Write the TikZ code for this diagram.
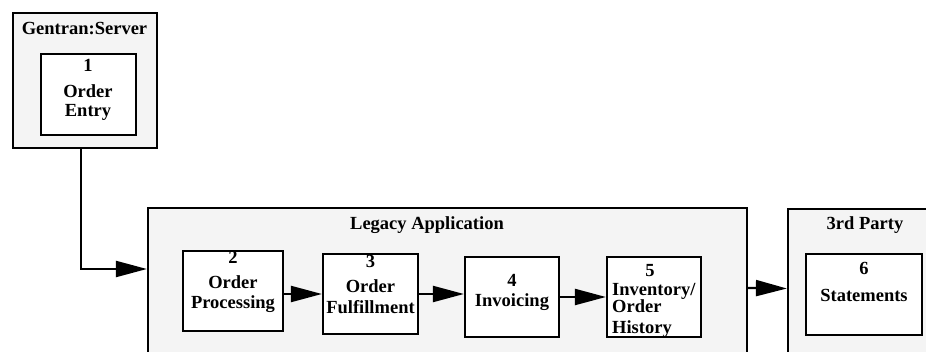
\documentclass[tikz,border=0pt]{standalone}
\usepackage{fontspec}
\setmainfont{Liberation Serif}
\usetikzlibrary{arrows.meta}
\definecolor{panelgray}{HTML}{F4F4F4}
\tikzset{
  panel/.style={draw=black, line width=2.2pt, fill=panelgray, rectangle, inner sep=0pt},
  task/.style={draw=black, line width=2.2pt, fill=white, rectangle, inner sep=0pt},
  label/.style={inner sep=0pt, font=\fontsize{18.5}{20}\selectfont\bfseries},
  flow/.style={line width=2.2pt, -{Triangle[length=31pt,width=16pt]}}
}
\begin{document}
\begin{tikzpicture}[x=1pt, y=-1pt]
  \useasboundingbox (0,0) rectangle (926,352);
  \clip (0,0) rectangle (926,352);

  % system panels
  \node[panel, minimum width=144pt, minimum height=135pt] (gentran) at (85,80.5) {};
  \node[panel, minimum width=599pt, minimum height=152pt] (legacy) at (447.5,284) {};
  \node[panel, minimum width=152pt, minimum height=151pt] (third) at (864,284.5) {};

  \node[label, anchor=base] (tgentran) at (84.5,35) {Gentran:Server};
  \node[label, anchor=base] (tlegacy) at (427,230) {Legacy Application};
  \node[label, anchor=base] (tthird) at (865,230) {3rd Party};

  % process steps
  \node[task, minimum width=95pt, minimum height=81pt] (b1) at (88.5,94.5) {};
  \node[task, minimum width=100pt, minimum height=80pt] (b2) at (233,291) {};
  \node[task, minimum width=95pt, minimum height=80pt] (b3) at (370.5,294) {};
  \node[task, minimum width=94pt, minimum height=80pt] (b4) at (512,297) {};
  \node[task, minimum width=94pt, minimum height=80pt] (b5) at (654,297) {};
  \node[task, minimum width=116pt, minimum height=81pt] (b6) at (864,294.5) {};

  \node[label, align=center, anchor=north] (t1) at (88,59) {1\\[6pt]Order\\[-1pt]Entry};
  \node[label, align=center, anchor=north] (t2) at (233,251) {2\\[5pt]Order\\Processing};
  \node[label, align=center, anchor=north] (t3) at (370.5,255.5) {3\\[5pt]Order\\[1pt]Fulfillment};
  \node[label, align=center, anchor=north] (t4) at (512,274) {4\\Invoicing};
  \node[label, anchor=north] (n5) at (650,264) {5};
  \node[label, align=left, anchor=north west] (t5) at (612,283.5) {Inventory/\\[-3pt]Order\\[1pt]History};
  \node[label, align=center, anchor=north] (t6) at (864,262) {6\\[7pt]Statements};

  % data flow
  \draw[flow] ([xshift=-4pt]gentran.south) |- ([yshift=15pt]legacy.west);
  \draw[flow] (b3.west -| b2.east) -- (b3.west);
  \draw[flow] (b3.east) -- (b3.east -| b4.west);
  \draw[flow] (b4.east) -- (b5.west);
  \draw[flow] ([yshift=-4pt]legacy.east) -- ([yshift=-4pt]third.west);
\end{tikzpicture}
\end{document}
